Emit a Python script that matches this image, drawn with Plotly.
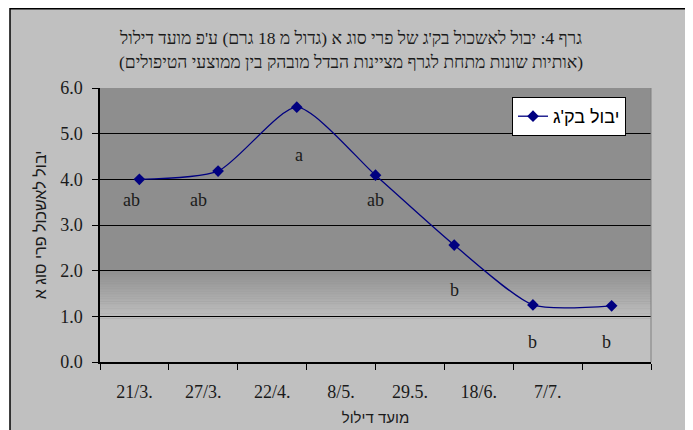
import plotly.graph_objects as go

dates = ["21/3.", "27/3.", "22/4.", "8/5.", "29.5.", "18/6.", "7/7."]
yields = [4.00, 4.18, 5.58, 4.09, 2.56, 1.25, 1.23]
letters = ["ab", "ab", "a", "ab", "b", "b", "b"]
letter_y = [3.55, 3.55, 4.53, 3.55, 1.58, 0.44, 0.44]
letter_xshift = [-8, -20, 2, 0, 0, 0, -5]

series_name = "יבול בק'ג"
title_l1 = "גרף 4: יבול לאשכול בק'ג של פרי סוג א (גדול מ 18 גרם) ע'פ מועד דילול"
title_l2 = "(אותיות שונות מתחת לגרף מציינות הבדל מובהק בין ממוצעי הטיפולים)"
y_title = "יבול לאשכול פרי סוג א"
x_title = "מועד דילול"

W, H = 693, 430
OFF = 8  # page body margin
L, T = 100 - OFF, 88 - OFF
PW, PH = 551, 274
R, B = W - L - PW, H - T - PH

serif = "Liberation Serif"
sans = "Liberation Sans"


def px_x(px):
    return (px - L) / PW


def px_y(py):
    return (T + PH - py) / PH


fig = go.Figure()
axis_cats = dates + [" "]
fig.add_trace(go.Scatter(x=axis_cats, y=[None] * len(axis_cats), xaxis="x", yaxis="y",
                         showlegend=False, hoverinfo="skip", mode="lines"))
fig.add_trace(go.Scatter(
    x=dates, y=yields, xaxis="x2", yaxis="y", name=series_name,
    mode="lines+markers", line=dict(color="#000080", width=1.3, shape="spline", smoothing=0.65),
    marker=dict(symbol="diamond", size=9, color="#000080"),
))

annotations = []
for d, lt, ly, xs in zip(dates, letters, letter_y, letter_xshift):
    annotations.append(dict(x=d, y=ly, xref="x2", yref="y", text=lt, showarrow=False,
                            xshift=xs, font=dict(family=serif, size=18, color="#1a1a1a")))
for txt, cy in ((title_l1, 38 - OFF), (title_l2, 62 - OFF)):
    annotations.append(dict(x=px_x(W / 2 - OFF + 4), y=px_y(cy), xref="paper", yref="paper",
                            xanchor="center", yanchor="middle", text=txt, showarrow=False,
                            font=dict(family=serif, size=17.5, color="#1a1a1a")))

shapes = []
shapes.append(dict(type="line", xref="paper", yref="paper", x0=px_x(2), x1=px_x(W + 5),
                   y0=px_y(0.75), y1=px_y(0.75), line=dict(color="black", width=1.5), layer="below"))
shapes.append(dict(type="rect", xref="paper", yref="paper", x0=px_x(-5), x1=px_x(2),
                   y0=px_y(H + 5), y1=px_y(-5), fillcolor="white", line=dict(width=0), layer="below"))
shapes.append(dict(type="line", xref="paper", yref="paper", x0=px_x(2), x1=px_x(2),
                   y0=px_y(0), y1=px_y(H + 5), line=dict(color="black", width=1.5), layer="below"))

# gradient band in plot area
g_top, g_bot = 2.05, 0.95
n = 30
c_top, c_bot = 0x8e, 0xc0
for i in range(n):
    y1 = g_top - (g_top - g_bot) * i / n
    y0 = g_top - (g_top - g_bot) * (i + 1) / n
    c = int(c_top + (c_bot - c_top) * (i + 0.5) / n)
    shapes.append(dict(type="rect", xref="x domain", yref="y", x0=0, x1=1, y0=y0, y1=y1 + 0.005,
                       fillcolor=f"rgb({c},{c},{c})", line=dict(width=0), layer="below"))
shapes.append(dict(type="rect", xref="x domain", yref="y", x0=0, x1=1, y0=0, y1=g_bot + 0.003,
                   fillcolor="rgb(192,192,192)", line=dict(width=0), layer="below"))
shapes.append(dict(type="line", xref="x domain", yref="y domain", x0=1, x1=1, y0=0, y1=1,
                   line=dict(color="#808080", width=1)))

fig.update_layout(
    width=W, height=H,
    margin=dict(l=L, r=R, t=T, b=B, autoexpand=False),
    paper_bgcolor="#c0c0c0",
    plot_bgcolor="#8e8e8e",
    xaxis=dict(type="category", categoryorder="array", categoryarray=axis_cats,
               range=[-0.5, len(axis_cats) - 0.5], tickson="boundaries", ticks="outside",
               ticklen=6, tickcolor="black", showgrid=False, showline=True, linecolor="black",
               linewidth=1.5, ticklabelstandoff=13,
               tickfont=dict(family=serif, size=18, color="#1a1a1a"),
               title=dict(text=x_title, standoff=11, font=dict(family=sans, size=15, color="#1a1a1a")),
               zeroline=False, fixedrange=True),
    xaxis2=dict(type="category", overlaying="x", visible=False, categoryorder="array",
                categoryarray=dates, range=[-0.5, len(dates) - 0.5]),
    yaxis=dict(range=[0, 6], dtick=1, tickformat=".1f", ticks="outside", ticklen=6,
               tickcolor="black", showgrid=True, gridcolor="black", gridwidth=1,
               showline=True, linecolor="black", linewidth=1.5, zeroline=False,
               ticklabelstandoff=6,
               tickfont=dict(family=serif, size=18, color="#1a1a1a"),
               title=dict(text=y_title, standoff=10, font=dict(family=sans, size=16, color="#1a1a1a"))),
    legend=dict(x=px_x(512 - OFF), y=px_y(97 - OFF), xanchor="left", yanchor="top",
                bgcolor="white", bordercolor="black", borderwidth=1,
                font=dict(family=sans, size=18, color="black"),
                itemwidth=30),
    showlegend=True,
    annotations=annotations,
    shapes=shapes,
)

fig.write_html("out.html")
